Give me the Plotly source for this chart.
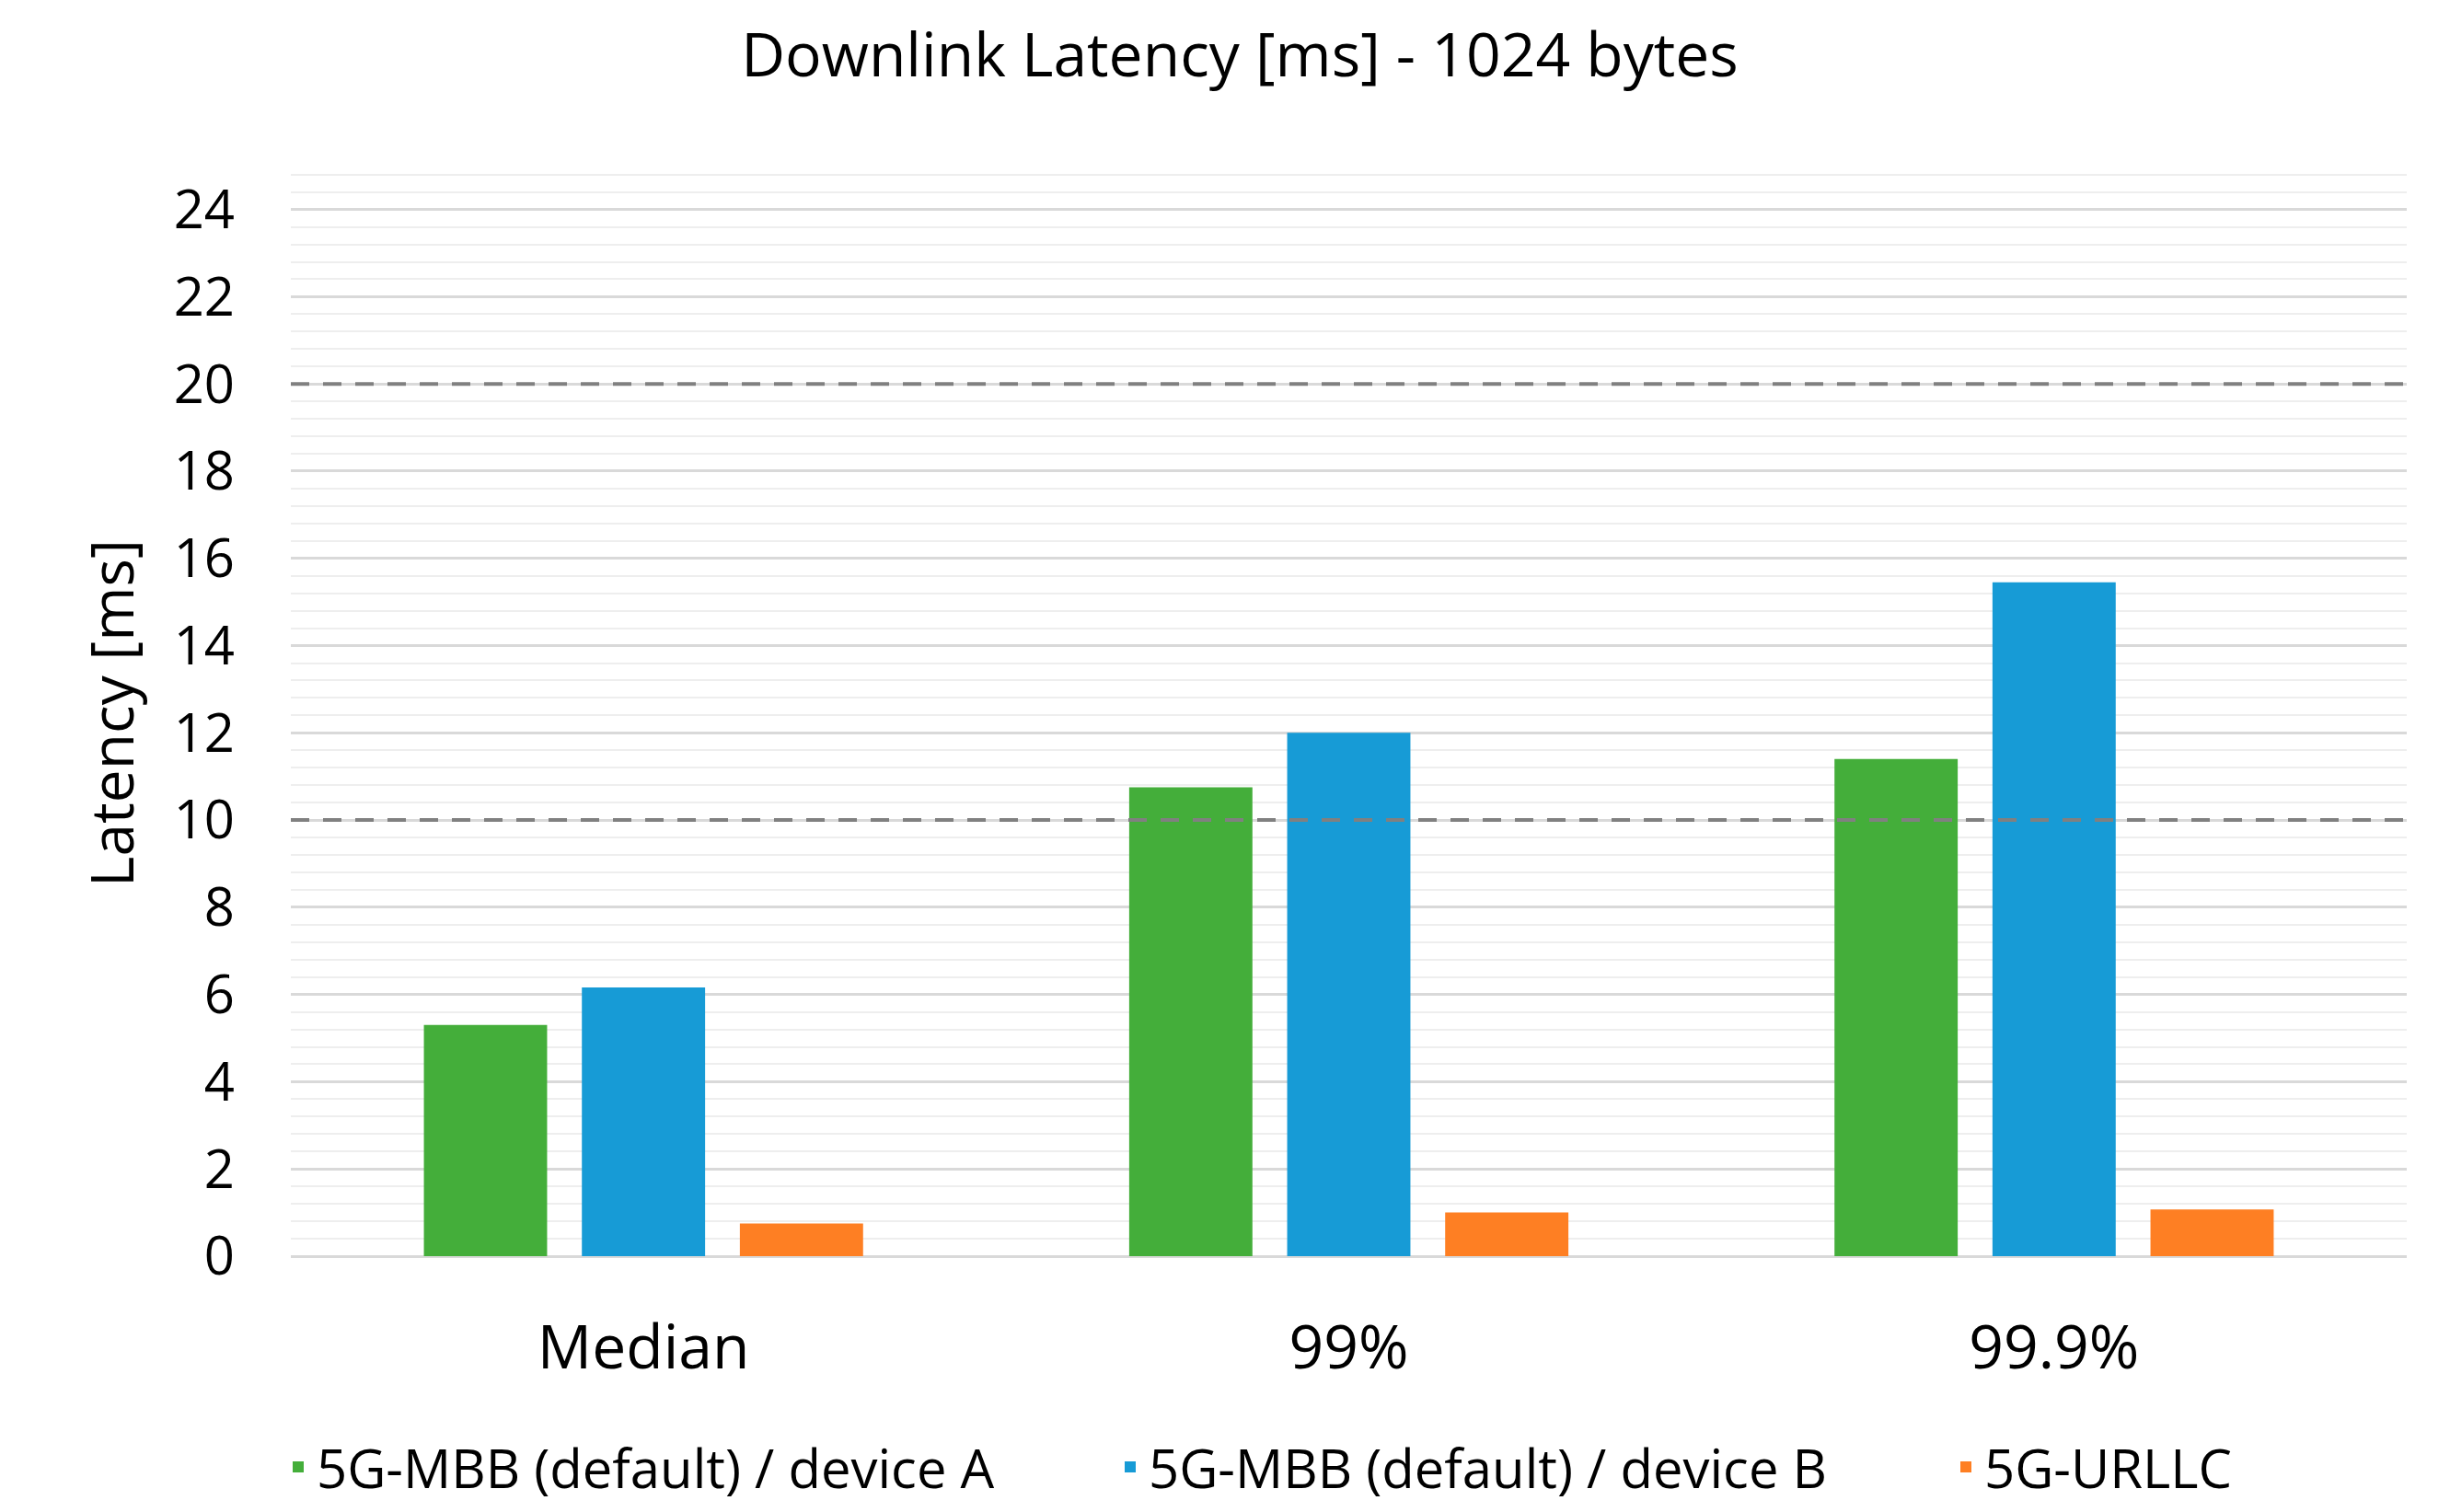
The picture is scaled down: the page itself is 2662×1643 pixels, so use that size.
import plotly.graph_objects as go

categories = ["Median", "99%", "99.9%"]
series_names = ["5G-MBB (default) / device A", "5G-MBB (default) / device B", "5G-URLLC"]
device_a = [5.30, 10.75, 11.4]
device_b = [6.16, 12.0, 15.45]
urllc = [0.75, 1.0, 1.07]
thresholds = [10, 20]
colors = ["#44AE3A", "#179BD6", "#FE7F23"]
y_ticks = [0, 2, 4, 6, 8, 10, 12, 14, 16, 18, 20, 22, 24]

FONT = "Open Sans"
W, H = 2662, 1643
Y_MAX = 24.9
L, R, B = 308, 55, 277
T = int(round((H - B) - Y_MAX * 47.75))
PW, PH = W - L - R, H - T - B

legend_ids = ["legend", "legend2", "legend3"]
legend_left_px = [296, 1200, 2108]

fig = go.Figure()
for name, vals, col, lid in zip(series_names, [device_a, device_b, urllc], colors, legend_ids):
    fig.add_trace(go.Bar(x=categories, y=vals, name=name, legend=lid,
                         marker=dict(color=col, line=dict(width=0))))

for t in thresholds:
    fig.add_shape(type="line", xref="paper", yref="y", x0=0, x1=1, y0=t, y1=t,
                  line=dict(color="#808080", width=4, dash="20px,15px"), layer="above")

legend_y = -(1597 - (H - B)) / PH
legend_common = dict(orientation="h", xanchor="left", y=legend_y, yanchor="middle",
                     font=dict(family=FONT, size=58, color="#000000"), itemwidth=30,
                     bgcolor="rgba(0,0,0,0)")

layout_legends = {}
for lid, px in zip(legend_ids, legend_left_px):
    layout_legends[lid] = dict(legend_common, x=(px - L) / PW)

fig.update_layout(
    width=W, height=H,
    paper_bgcolor="white", plot_bgcolor="white",
    margin=dict(l=L, r=R, t=T, b=B),
    barmode="group", bargap=0.328, bargroupgap=0.22,
    font=dict(family=FONT, color="#000000"),
    title=dict(text="Downlink Latency [ms] - 1024 bytes", x=0.503, xanchor="center",
               y=1 - 52 / H, yanchor="middle", yref="container",
               font=dict(family=FONT, size=66, color="#000000")),
    showlegend=True,
    **layout_legends,
)
fig.update_xaxes(showgrid=False, showline=False, zeroline=False, ticks="",
                 tickfont=dict(family=FONT, size=66, color="#000000"), ticklabelstandoff=55)
fig.update_yaxes(range=[0, Y_MAX], tickvals=y_ticks, showline=False, zeroline=True,
                 zerolinecolor="#D9D9D9", zerolinewidth=3,
                 gridcolor="#D9D9D9", gridwidth=3,
                 minor=dict(dtick=0.4, tick0=0, showgrid=True, gridcolor="#EEEEEE", gridwidth=2),
                 tickfont=dict(family=FONT, size=58, color="#000000"), ticklabelstandoff=60,
                 title=dict(text="Latency [ms]", font=dict(family=FONT, size=64, color="#000000"), standoff=22))

fig.write_html("out.html")
